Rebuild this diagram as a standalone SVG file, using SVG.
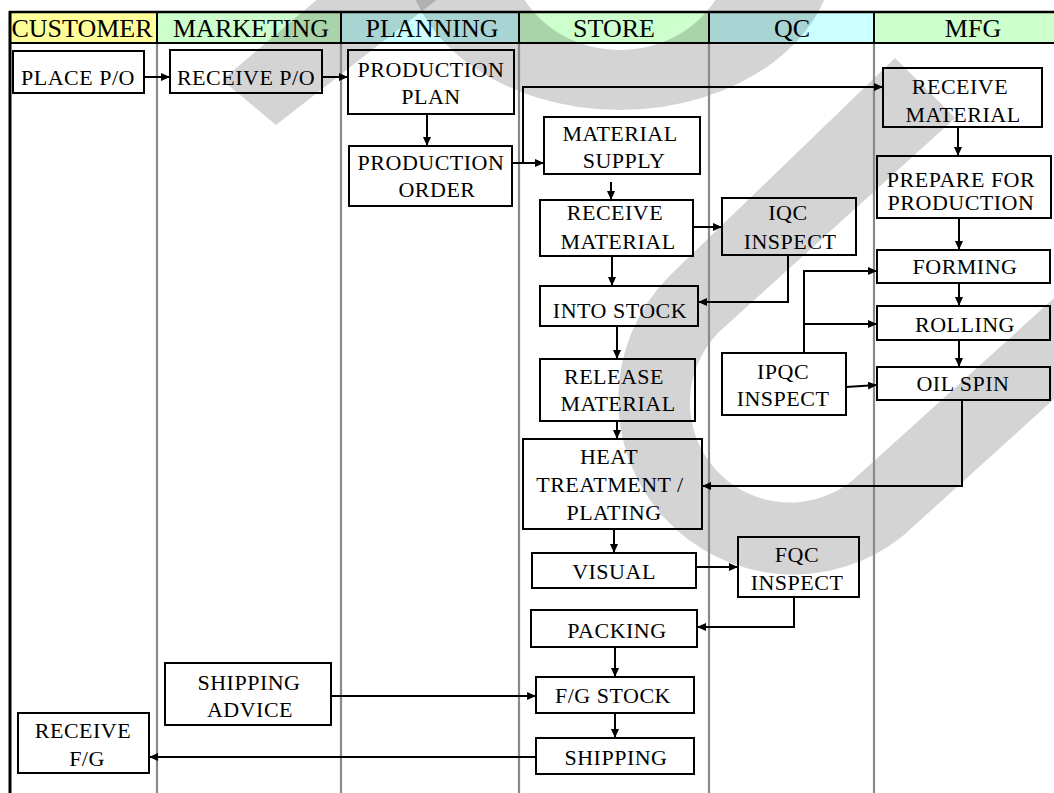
<svg xmlns="http://www.w3.org/2000/svg" width="1054" height="793" viewBox="0 0 1054 793">
<defs>
<marker id="ah" markerUnits="userSpaceOnUse" markerWidth="9" markerHeight="8" refX="9" refY="4" orient="auto">
<path d="M0,0 L9,4 L0,8 Z" fill="#000"/>
</marker>
<style>
.hdr{font-family:"Liberation Serif","Times New Roman",serif;font-size:26px;fill:#000;text-anchor:middle}
.box{fill:none;stroke:#000;stroke-width:2}
.t{font-family:"Liberation Serif","Times New Roman",serif;font-size:22px;letter-spacing:0.5px;fill:#000;text-anchor:middle}
.sep{stroke:#8a8a8a;stroke-width:2.2}
.wm{fill:#000;fill-opacity:0.17}
#connectors path{fill:none;stroke:#000;stroke-width:2;marker-end:url(#ah)}
</style>
</defs>
<rect x="0" y="0" width="1054" height="793" fill="#fff"/>
<g id="header-fills">
<rect x="10" y="12" width="147" height="31" fill="#FFFF99"/>
<rect x="157" y="12" width="184" height="31" fill="#CCFFCC"/>
<rect x="341" y="12" width="178" height="31" fill="#CCFFFF"/>
<rect x="519" y="12" width="190" height="31" fill="#CCFFCC"/>
<rect x="709" y="12" width="165" height="31" fill="#CCFFFF"/>
<rect x="874" y="12" width="180" height="31" fill="#CCFFCC"/>
</g>
<g id="watermark">
<polygon class="wm" points="276,125 222,80 340,-20 462,-20"/>
<path class="wm" d="M405,-50 A215,160 0 0 0 835,-50 L730,-50 A110,100 0 0 1 510,-50 Z"/>
<path class="wm" d="M895,58 L668.3,277 A175,175 0 0 0 902.8,536 L1265.4,207.7 L1215.1,152.2 L852.5,480.5 A100,100 0 0 1 718.5,332.5 L955.3,118.1 Z"/>
</g>
<g id="lanes">
<line class="sep" x1="157" y1="43" x2="157" y2="793"/>
<line class="sep" x1="341" y1="43" x2="341" y2="793"/>
<line class="sep" x1="519" y1="43" x2="519" y2="793"/>
<line class="sep" x1="709" y1="43" x2="709" y2="793"/>
<line class="sep" x1="874" y1="43" x2="874" y2="793"/>
<g stroke="#000" stroke-width="2">
<line x1="157" y1="12" x2="157" y2="43"/>
<line x1="341" y1="12" x2="341" y2="43"/>
<line x1="519" y1="12" x2="519" y2="43"/>
<line x1="709" y1="12" x2="709" y2="43"/>
<line x1="874" y1="12" x2="874" y2="43"/>
<line x1="9" y1="43" x2="1054" y2="43"/>
<line x1="9" y1="12" x2="1054" y2="12" stroke-width="2.5"/>
<line x1="10" y1="11" x2="10" y2="793" stroke-width="3"/>
</g>
<text class="hdr" x="82" y="37">CUSTOMER</text>
<text class="hdr" x="251" y="37">MARKETING</text>
<text class="hdr" x="432" y="37">PLANNING</text>
<text class="hdr" x="614" y="37">STORE</text>
<text class="hdr" x="792" y="37">QC</text>
<text class="hdr" x="973" y="37">MFG</text>
</g>
<g id="connectors">
<path d="M144,77 H170"/>
<path d="M322,77 H348"/>
<path d="M427,114 V146"/>
<path d="M512,163 H544"/>
<path d="M512,163 H523 V87 H883"/>
<path d="M611,182 V200"/>
<path d="M693,227 H722"/>
<path d="M612,256 V286"/>
<path d="M788,255 V302 H698"/>
<path d="M617,326 V359"/>
<path d="M617,421 V439"/>
<path d="M958,127 V156"/>
<path d="M959,218 V250"/>
<path d="M959,283 V306"/>
<path d="M959,340 V367"/>
<path d="M804,353 V271 H877"/>
<path d="M804,324 H877"/>
<path d="M846,387 L877,385"/>
<path d="M962,400 V486 H702"/>
<path d="M614,529 V553"/>
<path d="M696,567 H738"/>
<path d="M794,597 V627 H697"/>
<path d="M615,647 V677"/>
<path d="M331,696 H536"/>
<path d="M615,713 V738"/>
<path d="M536,757 H149"/>
</g>
<g id="n-place-po"><rect class="box" x="13" y="51" width="131" height="42"/><text class="t" x="78" y="85">PLACE P/O</text></g>
<g id="n-receive-po"><rect class="box" x="170" y="50" width="152" height="43"/><text class="t" x="246" y="85">RECEIVE P/O</text></g>
<g id="n-production-plan"><rect class="box" x="348" y="50" width="166" height="64"/><text class="t" x="431" y="77">PRODUCTION</text><text class="t" x="431" y="104">PLAN</text></g>
<g id="n-production-order"><rect class="box" x="349" y="146" width="163" height="60"/><text class="t" x="431" y="170">PRODUCTION</text><text class="t" x="437" y="197">ORDER</text></g>
<g id="n-mfg-receive-material"><rect class="box" x="883" y="68" width="159" height="59"/><text class="t" x="960" y="94">RECEIVE</text><text class="t" x="963" y="122">MATERIAL</text></g>
<g id="n-material-supply"><rect class="box" x="544" y="117" width="156" height="57"/><text class="t" x="620" y="141">MATERIAL</text><text class="t" x="624" y="168">SUPPLY</text></g>
<g id="n-prepare"><rect class="box" x="877" y="156" width="174" height="62"/><text class="t" x="961" y="187">PREPARE FOR</text><text class="t" x="961" y="210">PRODUCTION</text></g>
<g id="n-store-receive-material"><rect class="box" x="540" y="200" width="153" height="56"/><text class="t" x="615" y="220">RECEIVE</text><text class="t" x="618" y="249">MATERIAL</text></g>
<g id="n-iqc"><rect class="box" x="722" y="198" width="134" height="57"/><text class="t" x="788" y="220">IQC</text><text class="t" x="790" y="249">INSPECT</text></g>
<g id="n-into-stock"><rect class="box" x="540" y="286" width="158" height="40"/><text class="t" x="620" y="318">INTO STOCK</text></g>
<g id="n-release-material"><rect class="box" x="540" y="359" width="155" height="62"/><text class="t" x="614" y="384">RELEASE</text><text class="t" x="618" y="411">MATERIAL</text></g>
<g id="n-ipqc"><rect class="box" x="722" y="353" width="124" height="62"/><text class="t" x="783" y="379">IPQC</text><text class="t" x="783" y="406">INSPECT</text></g>
<g id="n-forming"><rect class="box" x="877" y="250" width="173" height="33"/><text class="t" x="965" y="274">FORMING</text></g>
<g id="n-rolling"><rect class="box" x="877" y="306" width="173" height="34"/><text class="t" x="965" y="332">ROLLING</text></g>
<g id="n-oil-spin"><rect class="box" x="877" y="367" width="173" height="33"/><text class="t" x="963" y="391">OIL SPIN</text></g>
<g id="n-heat"><rect class="box" x="523" y="439" width="179" height="90"/><text class="t" x="609" y="464">HEAT</text><text class="t" x="610" y="492">TREATMENT /</text><text class="t" x="614" y="520">PLATING</text></g>
<g id="n-visual"><rect class="box" x="532" y="553" width="164" height="35"/><text class="t" x="614" y="579">VISUAL</text></g>
<g id="n-fqc"><rect class="box" x="738" y="537" width="121" height="60"/><text class="t" x="797" y="562">FQC</text><text class="t" x="797" y="590">INSPECT</text></g>
<g id="n-packing"><rect class="box" x="531" y="610" width="166" height="37"/><text class="t" x="617" y="638">PACKING</text></g>
<g id="n-fg-stock"><rect class="box" x="536" y="677" width="158" height="36"/><text class="t" x="613" y="703">F/G STOCK</text></g>
<g id="n-shipping"><rect class="box" x="536" y="738" width="158" height="36"/><text class="t" x="616" y="765">SHIPPING</text></g>
<g id="n-shipping-advice"><rect class="box" x="165" y="663" width="166" height="62"/><text class="t" x="249" y="690">SHIPPING</text><text class="t" x="250" y="717">ADVICE</text></g>
<g id="n-receive-fg"><rect class="box" x="18" y="713" width="131" height="60"/><text class="t" x="83" y="738">RECEIVE</text><text class="t" x="87" y="766">F/G</text></g>
</svg>
